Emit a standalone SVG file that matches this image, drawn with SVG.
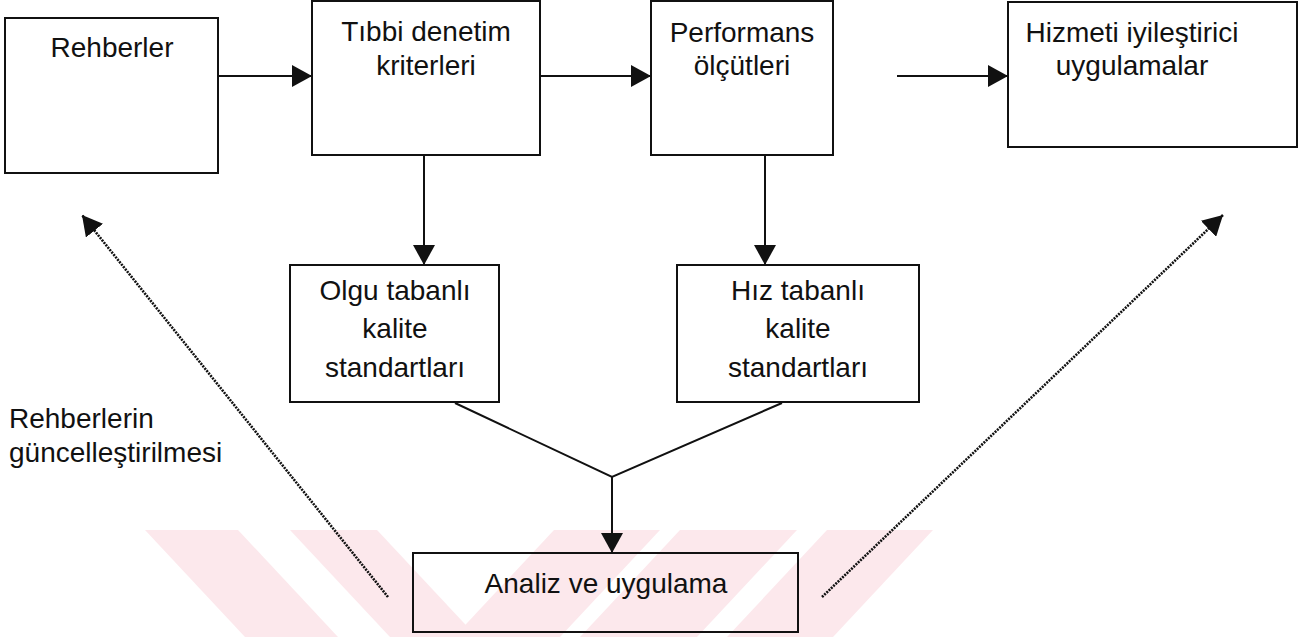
<svg xmlns="http://www.w3.org/2000/svg" width="1302" height="637" viewBox="0 0 1302 637">
  <style>
    .box { fill: none; stroke: #111; stroke-width: 2; }
    .lbl { font-family: "Liberation Sans", Arial, sans-serif; font-size: 28px; fill: #111; text-anchor: middle; }
    .free { text-anchor: start; }
    .link { fill: none; stroke: #111; stroke-width: 2; }
    .dots { fill: none; stroke: #111; stroke-width: 2.6; stroke-dasharray: 2 1.1; }
    .band { fill: #fce8ec; }
  </style>
  <defs>
    <marker id="head" markerUnits="userSpaceOnUse" markerWidth="22" markerHeight="22" refX="20" refY="11" orient="auto">
      <path d="M0,0 L20,11 L0,22 Z" fill="#111"/>
    </marker>
    <clipPath id="bandClip">
      <rect x="0" y="530" width="1302" height="107"/>
    </clipPath>
  </defs>

  <!-- faint background chevron bands -->
  <g id="backdrop" clip-path="url(#bandClip)">
    <polygon class="band" points="145,530 238,530 338,637 245,637"/>
    <polygon class="band" points="290,530 377,530 477,637 390,637"/>
    <polygon class="band" points="554,530 660,530 560,637 454,637"/>
    <polygon class="band" points="680,530 797,530 697,637 580,637"/>
    <polygon class="band" points="827,530 933,530 833,637 727,637"/>
  </g>

  <g id="connectors">
    <line class="link" x1="218" y1="76" x2="312" y2="76" marker-end="url(#head)"/>
    <line class="link" x1="540" y1="76" x2="651" y2="76" marker-end="url(#head)"/>
    <line class="link" x1="897" y1="76" x2="1008" y2="76" marker-end="url(#head)"/>
    <line class="link" x1="424" y1="155" x2="424" y2="265" marker-end="url(#head)"/>
    <line class="link" x1="765" y1="155" x2="765" y2="265" marker-end="url(#head)"/>
    <polyline class="link" points="455,403 612,477 782,403"/>
    <line class="link" x1="612" y1="477" x2="612" y2="553" marker-end="url(#head)"/>
    <line class="dots" x1="388" y1="597" x2="82" y2="215" marker-end="url(#head)"/>
    <line class="dots" x1="822" y1="597" x2="1223" y2="215" marker-end="url(#head)"/>
  </g>

  <g id="rehberler">
    <rect class="box" x="5" y="18" width="213" height="155"/>
    <text class="lbl" x="112" y="57">Rehberler</text>
  </g>

  <g id="tibbi-denetim">
    <rect class="box" x="312" y="1" width="228" height="154"/>
    <text class="lbl" x="426" y="41">Tıbbi denetim</text>
    <text class="lbl" x="426" y="75">kriterleri</text>
  </g>

  <g id="performans">
    <rect class="box" x="651" y="1" width="182" height="154"/>
    <text class="lbl" x="742" y="42">Performans</text>
    <text class="lbl" x="742" y="75">ölçütleri</text>
  </g>

  <g id="hizmeti">
    <rect class="box" x="1008" y="2" width="289" height="145"/>
    <text class="lbl" x="1132" y="42">Hizmeti iyileştirici</text>
    <text class="lbl" x="1132" y="75">uygulamalar</text>
  </g>

  <g id="olgu-tabanli">
    <rect class="box" x="290" y="265" width="209" height="137"/>
    <text class="lbl" x="395" y="300">Olgu tabanlı</text>
    <text class="lbl" x="395" y="338">kalite</text>
    <text class="lbl" x="395" y="377">standartları</text>
  </g>

  <g id="hiz-tabanli">
    <rect class="box" x="677" y="265" width="242" height="137"/>
    <text class="lbl" x="798" y="300">Hız tabanlı</text>
    <text class="lbl" x="798" y="338">kalite</text>
    <text class="lbl" x="798" y="377">standartları</text>
  </g>

  <g id="analiz">
    <rect class="box" x="413" y="553" width="385" height="79"/>
    <text class="lbl" x="606" y="593">Analiz ve uygulama</text>
  </g>

  <g id="guncelleme-etiketi">
    <text class="lbl free" x="9" y="428">Rehberlerin</text>
    <text class="lbl free" x="9" y="462">güncelleştirilmesi</text>
  </g>
</svg>
